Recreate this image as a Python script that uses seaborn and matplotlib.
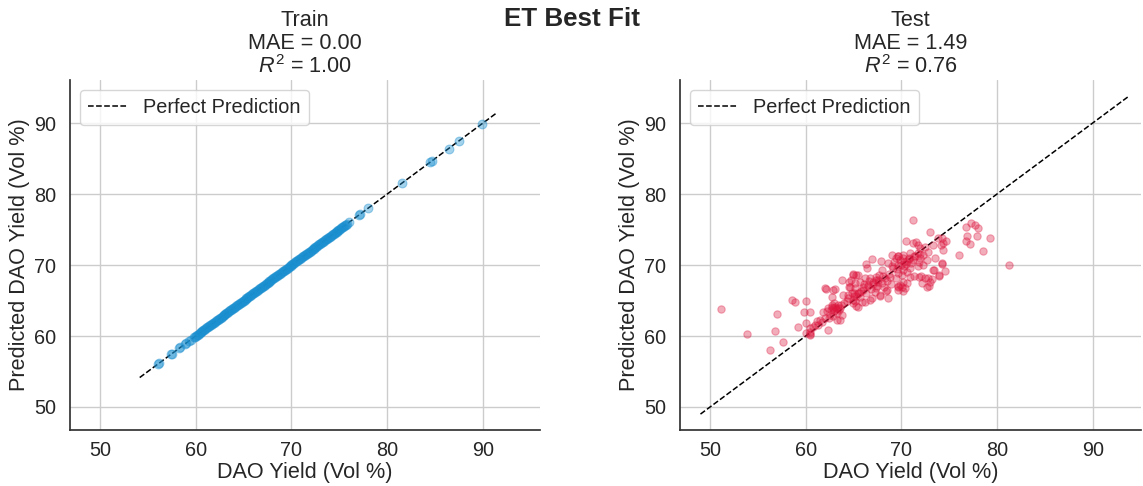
import matplotlib
matplotlib.use("Agg")
import matplotlib.pyplot as plt
import seaborn as sns
import pandas as pd

# ---------------- data ----------------
train_actual = [
    56.1, 56.2, 57.4, 57.5, 58.3, 58.4, 58.9, 59.0, 59.3, 59.5,
    59.8, 60.0, 60.2, 60.4, 60.6, 60.8, 61.0, 61.2, 61.4, 61.6,
    61.8, 62.0, 62.2, 62.4, 62.6, 62.8, 63.0, 63.2, 63.4, 63.6,
    63.8, 64.0, 64.2, 64.4, 64.6, 64.8, 65.0, 65.2, 65.4, 65.6,
    65.8, 66.0, 66.2, 66.4, 66.6, 66.8, 67.0, 67.2, 67.4, 67.6,
    67.8, 68.0, 68.2, 68.4, 68.6, 68.8, 69.0, 69.2, 69.4, 69.6,
    69.8, 70.0, 70.2, 70.4, 70.6, 70.8, 71.0, 71.2, 71.4, 71.6,
    71.8, 72.0, 72.2, 72.4, 72.6, 72.8, 73.0, 73.2, 73.4, 73.6,
    73.8, 74.0, 74.2, 74.4, 74.6, 74.8, 75.0, 75.2, 75.4, 75.6,
    75.8, 76.0, 77.1, 77.2, 78.0, 81.5, 84.5, 84.7, 86.4, 87.5, 89.9,
    59.9, 60.1, 60.3, 60.5, 60.7, 60.9, 61.1, 61.3, 61.5, 61.7,
    61.9, 62.1, 62.3, 62.5, 62.7, 62.9, 63.1, 63.3, 63.5, 63.7,
    63.9, 64.1, 64.3, 64.5, 64.7, 64.9, 65.1, 65.3, 65.5, 65.7,
    65.9, 66.1, 66.3, 66.5, 66.7, 66.9, 67.1, 67.3, 67.5, 67.7,
    67.9, 68.1, 68.3, 68.5, 68.7, 68.9, 69.1, 69.3, 69.5, 69.7,
    69.9, 70.1, 70.3, 70.5, 70.7, 70.9, 71.1, 71.3, 71.5, 71.7,
    71.9, 72.1, 72.3, 72.5, 72.7, 72.9, 73.1, 73.3, 73.5, 73.7,
    73.9, 74.1, 74.3, 74.5, 74.7, 74.9, 75.1, 75.3, 75.5, 75.7,
]
train_pred = [
    56.1, 56.2, 57.4, 57.5, 58.3, 58.4, 58.9, 59.0, 59.3, 59.5,
    59.8, 60.0, 60.2, 60.4, 60.6, 60.8, 61.0, 61.2, 61.4, 61.6,
    61.8, 62.0, 62.2, 62.4, 62.6, 62.8, 63.0, 63.2, 63.4, 63.6,
    63.8, 64.0, 64.2, 64.4, 64.6, 64.8, 65.0, 65.2, 65.4, 65.6,
    65.8, 66.0, 66.2, 66.4, 66.6, 66.8, 67.0, 67.2, 67.4, 67.6,
    67.8, 68.0, 68.2, 68.4, 68.6, 68.8, 69.0, 69.2, 69.4, 69.6,
    69.8, 70.0, 70.2, 70.4, 70.6, 70.8, 71.0, 71.2, 71.4, 71.6,
    71.8, 72.0, 72.2, 72.4, 72.6, 72.8, 73.0, 73.2, 73.4, 73.6,
    73.8, 74.0, 74.2, 74.4, 74.6, 74.8, 75.0, 75.2, 75.4, 75.6,
    75.8, 76.0, 77.1, 77.2, 78.0, 81.5, 84.5, 84.7, 86.4, 87.5, 89.9,
    59.9, 60.1, 60.3, 60.5, 60.7, 60.9, 61.1, 61.3, 61.5, 61.7,
    61.9, 62.1, 62.3, 62.5, 62.7, 62.9, 63.1, 63.3, 63.5, 63.7,
    63.9, 64.1, 64.3, 64.5, 64.7, 64.9, 65.1, 65.3, 65.5, 65.7,
    65.9, 66.1, 66.3, 66.5, 66.7, 66.9, 67.1, 67.3, 67.5, 67.7,
    67.9, 68.1, 68.3, 68.5, 68.7, 68.9, 69.1, 69.3, 69.5, 69.7,
    69.9, 70.1, 70.3, 70.5, 70.7, 70.9, 71.1, 71.3, 71.5, 71.7,
    71.9, 72.1, 72.3, 72.5, 72.7, 72.9, 73.1, 73.3, 73.5, 73.7,
    73.9, 74.1, 74.3, 74.5, 74.7, 74.9, 75.1, 75.3, 75.5, 75.7,
]

test_actual = [
    51.1, 53.9, 56.3, 56.8, 57.0, 57.6, 58.6, 58.9, 59.2, 60.0,
    59.8, 60.4, 60.0, 60.0, 60.5, 60.5, 62.3, 62.1, 63.1, 63.8,
    64.9, 65.3, 64.7, 66.3, 66.9, 67.9, 69.0, 70.5, 71.2, 71.5,
    73.0, 73.8, 74.3, 74.7, 74.4, 74.2, 74.6, 73.9, 73.4, 72.9,
    72.8, 73.2, 72.1, 71.3, 70.2, 70.6, 69.7, 67.8, 68.4, 66.7,
    65.9, 65.3, 65.2, 76.0, 76.8, 77.3, 77.7, 78.0, 76.9, 77.9,
    76.8, 77.2, 78.5, 79.3, 81.3,
    60.8, 60.5, 60.4, 61.3, 61.7, 61.8, 62.0, 62.9, 62.7, 62.3,
    62.9, 63.1, 63.0, 63.3, 63.6, 63.8, 63.3, 63.9, 64.4, 64.6,
    64.9, 65.5, 65.0, 64.5, 65.2,
    62.6, 62.8, 63.2, 63.4, 62.5, 63.6, 62.9, 63.5, 62.4, 63.0,
    66.4, 68.0, 68.6, 69.0, 69.4, 69.7, 69.9, 70.2, 64.9, 65.5,
    64.5, 65.2, 65.7, 66.2, 66.7, 67.3, 67.6, 68.3, 68.8, 69.4,
    69.7, 70.1, 70.2, 69.7, 68.5, 67.8, 66.9, 66.2, 65.5, 64.9,
    64.4, 65.7, 67.3, 68.6, 69.7, 70.1,
    66.0, 66.5, 67.0, 67.5, 68.0, 68.5, 66.3, 67.2, 68.2, 65.8,
    66.8, 67.7, 66.1, 68.9, 64.8, 65.3, 66.6, 67.4,
    71.2, 71.7, 72.0, 72.5, 73.3, 74.1, 74.4, 72.8, 72.3, 71.7,
    70.9, 70.2, 69.6, 70.6, 71.2, 72.0, 72.7, 73.5, 72.3, 71.7,
    70.9, 70.2, 70.9, 71.8, 72.5, 73.0, 73.3, 74.3, 73.9, 72.7,
    72.2, 70.4, 69.9,
    70.0, 70.5, 71.0, 70.3, 69.5, 71.4, 70.8, 69.2, 71.8, 70.6,
    61.0, 61.5, 62.0, 61.2,
    63.4, 64.0, 64.3, 65.0, 65.6, 66.0, 66.5, 67.0, 67.6, 68.1,
    68.7, 69.1, 69.6, 70.3, 70.8, 71.3, 71.9, 62.2, 62.8, 63.7,
]
test_pred = [
    63.8, 60.3, 58.0, 60.7, 63.1, 59.2, 65.1, 64.8, 61.3, 64.9,
    63.4, 63.4, 61.9, 60.4, 60.2, 61.1, 60.9, 66.6, 66.6, 67.9,
    68.6, 68.6, 67.9, 70.2, 70.8, 70.5, 71.4, 73.4, 76.3, 73.2,
    74.7, 73.8, 73.8, 73.4, 72.1, 70.2, 69.2, 68.5, 69.3, 67.0,
    68.2, 68.0, 68.4, 68.4, 66.3, 67.4, 67.0, 65.6, 66.4, 65.1,
    64.8, 64.2, 65.0, 71.4, 75.4, 75.9, 75.6, 75.2, 74.1, 74.1,
    73.4, 73.0, 72.0, 73.8, 70.0,
    61.2, 60.6, 60.3, 61.6, 62.0, 63.4, 66.7, 66.5, 65.5, 64.0,
    63.9, 64.1, 63.5, 63.2, 62.3, 63.0, 62.3, 65.8, 65.8, 66.9,
    65.1, 66.1, 66.1, 67.6, 67.5,
    63.7, 64.3, 63.8, 64.4, 63.0, 64.0, 62.8, 63.6, 62.6, 64.6,
    69.6, 69.3, 70.3, 69.9, 71.0, 71.2, 70.7, 71.0, 68.8, 68.6,
    66.9, 66.8, 67.6, 68.2, 68.2, 68.3, 67.6, 68.2, 68.3, 68.2,
    68.9, 68.6, 67.6, 66.9, 66.5, 65.8, 65.4, 64.8, 64.1, 64.7,
    65.4, 65.5, 66.8, 65.4, 66.5, 66.9,
    66.5, 67.0, 67.3, 67.0, 67.5, 67.8, 66.0, 66.2, 66.9, 66.3,
    66.6, 68.6, 67.3, 67.3, 66.0, 65.6, 67.8, 67.9,
    73.1, 72.8, 72.4, 72.6, 72.8, 72.8, 73.1, 71.9, 71.4, 71.7,
    71.7, 71.4, 71.2, 70.5, 70.7, 71.0, 70.7, 71.0, 70.0, 69.8,
    69.6, 69.3, 68.3, 68.3, 68.2, 67.6, 69.3, 70.3, 68.6, 66.9,
    67.5, 66.8, 67.2,
    70.0, 70.2, 70.3, 69.8, 69.5, 71.2, 71.0, 70.4, 70.4, 69.0,
    61.6, 62.3, 62.6, 62.1,
    64.0, 64.6, 64.9, 65.7, 66.1, 66.9, 67.2, 67.6, 67.9, 68.4,
    68.8, 69.6, 70.0, 70.4, 70.9, 71.3, 71.6, 63.5, 64.1, 64.3,
]

panel_names = ["Train", "Test"]
mae_values = [0.00, 1.49]
r2_values = [1.00, 0.76]
train_line = [54.15, 91.4]
test_line = [49.0, 93.7]
tick_values = [50, 60, 70, 80, 90]

# ---------------- style ----------------
sns.set_theme(style="whitegrid", font_scale=1.3)
plt.rcParams["font.family"] = ["Liberation Sans", "DejaVu Sans"]
plt.rcParams["mathtext.fontset"] = "custom"
plt.rcParams["mathtext.rm"] = "Liberation Sans"
plt.rcParams["mathtext.it"] = "Liberation Sans:italic"
plt.rcParams["axes.edgecolor"] = "#333333"

fig = plt.figure(figsize=(11.43, 4.86), dpi=100)
ax1 = fig.add_axes([70 / 1143, 56 / 486, 470 / 1143, 350 / 486])
ax2 = fig.add_axes([680 / 1143, 56 / 486, 461 / 1143, 350 / 486])

train_df = pd.DataFrame({"actual": train_actual, "pred": train_pred})
test_df = pd.DataFrame({"actual": test_actual, "pred": test_pred})

blue = "#1a8fd0"
red = "#dc143c"

sns.lineplot(x=train_line, y=train_line, ax=ax1, color="black", lw=1.1,
             linestyle="--", label="Perfect Prediction", zorder=2)
sns.scatterplot(data=train_df, x="actual", y="pred", ax=ax1, color=blue,
                alpha=0.4, s=40, edgecolor=blue, linewidth=0.8, zorder=3)

sns.lineplot(x=test_line, y=test_line, ax=ax2, color="black", lw=1.1,
             linestyle="--", label="Perfect Prediction", zorder=2)
sns.scatterplot(data=test_df, x="actual", y="pred", ax=ax2, color=red,
                alpha=0.35, s=28, edgecolor=red, linewidth=0.8, zorder=3)

limits = [((46.87, 95.95), (46.76, 96.06)), ((46.86, 95.05), (46.76, 96.06))]
for ax, name, mae, r2, (xl, yl) in zip([ax1, ax2], panel_names, mae_values, r2_values, limits):
    ax.set_xlim(*xl)
    ax.set_ylim(*yl)
    ax.set_xticks(tick_values)
    ax.set_yticks(tick_values)
    ax.tick_params(axis="x", pad=2)
    ax.tick_params(axis="y", pad=4)
    ax.set_xlabel("DAO Yield (Vol %)", labelpad=1)
    ax.set_ylabel("Predicted DAO Yield (Vol %)", labelpad=3)
    ax.set_title(f"{name}\nMAE = {mae:.2f}\n$R^2$ = {r2:.2f}", linespacing=1.08, pad=5)
    ax.legend(loc="upper left", frameon=True)
    sns.despine(ax=ax)

fig.suptitle("ET Best Fit", fontweight="bold", y=0.985)
fig.savefig("out.png", dpi=100)
